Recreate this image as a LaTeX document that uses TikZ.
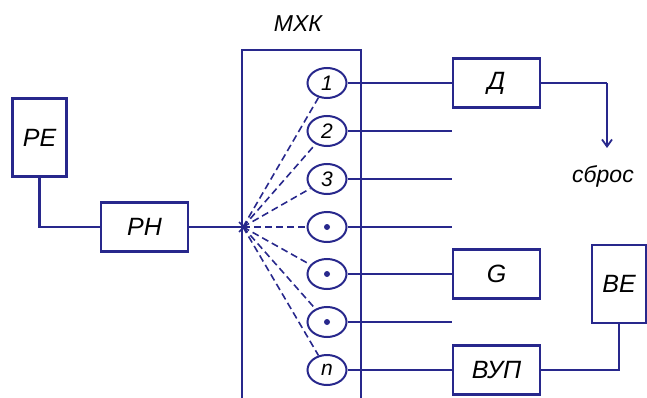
\documentclass[tikz,border=0pt]{standalone}
\usepackage{fontspec}
\setmainfont{Liberation Sans}
\usetikzlibrary{arrows.meta,shapes.geometric}
\definecolor{ln}{RGB}{40,40,140}
\begin{document}
\begin{tikzpicture}[x=1pt,y=-1pt,
  wire/.style={draw=ln,line width=2.2pt},
  lbl/.style={font=\fontsize{25}{26}\selectfont\itshape},
  blk/.style={lbl,draw=ln,line width=2.2pt,minimum width=87pt,minimum height=49pt,inner sep=0pt},
  tallblk/.style={lbl,draw=ln,line width=2.2pt,minimum width=54pt,minimum height=78pt,inner sep=0pt},
  port/.style={draw=ln,line width=2pt,ellipse,minimum width=39pt,minimum height=30pt,inner sep=0pt,font=\fontsize{21}{22}\selectfont\itshape},
  fanline/.style={draw=ln,line width=1.6pt,dash pattern=on 7pt off 4pt},
  dotm/.style={fill=ln,circle,inner sep=0pt,minimum size=6pt}
]
\useasboundingbox (0,0) rectangle (647,398);
% MXK frame
\coordinate (mbl) at (242,398);
\coordinate (mtl) at (242,50);
\coordinate (mtr) at (361,50);
\coordinate (mbr) at (361,398);
\draw[wire] (mbl) -- (mtl) -- (mtr) -- (mbr);
\node[font=\fontsize{23}{24}\selectfont\itshape] (mxk) at (298,24) {МХК};
\coordinate (fan) at (243,227);
% ports
\node[port] (p1) at (327,83) {1};
\node[port] (p2) at (327,131) {2};
\node[port] (p3) at (327,179) {3};
\node[port] (p4) at (327,227) {};
\node[port] (p5) at (327,274) {};
\node[port] (p6) at (327,322) {};
\node[port] (p7) at (327,370) {n};
\foreach \i in {4,5,6} \node[dotm] at (p\i) {};
\foreach \i in {1,...,7} \draw[fanline] (fan) -- (p\i);
% blocks
\node[tallblk] (pe) at (39.5,137.5) {РЕ};
\node[blk] (ph) at (144.5,227) {РН};
\node[blk] (d) at (496.5,83) {Д};
\node[blk] (g) at (496.5,274) {G};
\node[blk] (vup) at (496.5,370) {ВУП};
\node[tallblk] (be) at (619,284) {ВЕ};
% free ends
\coordinate (e2) at (452,131);
\coordinate (e3) at (452,179);
\coordinate (e4) at (452,227);
\coordinate (e6) at (452,322);
\coordinate (dc) at (607,83);
\coordinate (sa) at (607,148);
\node[font=\fontsize{23}{24}\selectfont\itshape] (sbros) at (603,176) {сброс};
% wires
\draw[wire] (pe.south) |- (ph.west);
\draw[wire] (ph.east) -- (fan);
\draw[wire] (p1) -- (d.west);
\draw[wire] (p2) -- (e2);
\draw[wire] (p3) -- (e3);
\draw[wire] (p4) -- (e4);
\draw[wire] (p5) -- (g.west);
\draw[wire] (p6) -- (e6);
\draw[wire] (p7) -- (vup.west);
\draw[wire] (d.east) -- (dc);
\draw[draw=ln,line width=1.8pt,-{Straight Barb[length=7pt,width=10pt]}] (dc) -- (sa);
\draw[wire] (vup.east) -| (be.south);
\draw[draw=ln,line width=1.6pt] (fan) ++(-4,-5) -- ++(5,5) -- ++(-5,5);
\end{tikzpicture}
\end{document}
